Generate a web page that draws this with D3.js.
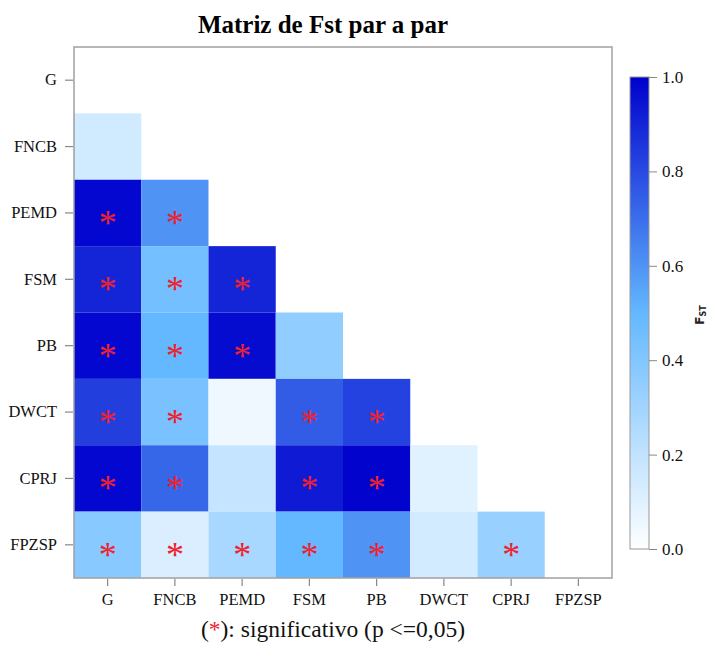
<!DOCTYPE html>
<html><head><meta charset="utf-8">
<script src="https://cdn.jsdelivr.net/npm/d3@7"></script>
<style>body{margin:0;background:#fff}svg{display:block}</style>
</head><body>
<svg id="c" width="707" height="646"></svg>
<script>
const populations = ["G","FNCB","PEMD","FSM","PB","DWCT","CPRJ","FPZSP"];
// lower-triangle Fst values, row i lists values for columns 0..i-1
const fstRows = [
  [],
  [0.15],
  [0.98, 0.60],
  [0.90, 0.45, 0.90],
  [0.98, 0.50, 0.97, 0.35],
  [0.83, 0.43, 0.05, 0.75, 0.82],
  [0.98, 0.72, 0.19, 0.93, 0.99, 0.10],
  [0.38, 0.12, 0.28, 0.50, 0.60, 0.14, 0.33]
];
// significance flags (1 = p <= 0.05)
const sigRows = [
  [],
  [0],
  [1, 1],
  [1, 1, 1],
  [1, 1, 1, 0],
  [1, 1, 0, 1, 1],
  [1, 1, 0, 1, 1, 0],
  [1, 1, 1, 1, 1, 0, 1]
];
const legendTicks = [0.0, 0.2, 0.4, 0.6, 0.8, 1.0];

const cells = [];
fstRows.forEach((row, i) => row.forEach((v, j) => cells.push({r: populations[i], c: populations[j], v, sig: sigRows[i][j]})));

const svg = d3.select("#c");
const L = 74, R = 612, T = 47, B = 578;
const x = d3.scaleBand().domain(populations).range([L, R]);
const y = d3.scaleBand().domain(populations).range([T, B]);
const color = d3.scaleLinear().domain([0, 0.5, 1]).range(["#ffffff", "#63B8FF", "#0000CD"]).interpolate(d3.interpolateRgb);

svg.append("g").selectAll("rect").data(cells).join("rect")
  .attr("x", d => x(d.c)).attr("y", d => y(d.r))
  .attr("width", x.bandwidth()).attr("height", y.bandwidth())
  .attr("fill", d => color(d.v));

svg.append("g").selectAll("text").data(cells.filter(d => d.sig)).join("text")
  .attr("x", d => x(d.c) + x.bandwidth() / 2)
  .attr("y", d => y(d.r) + y.bandwidth() / 2 + 22)
  .attr("text-anchor", "middle")
  .attr("font-family", "Liberation Serif, serif")
  .attr("font-size", 36).attr("fill", "#f0212e")
  .text("*");

svg.append("rect").attr("x", L).attr("y", T).attr("width", R - L).attr("height", B - T)
  .attr("fill", "none").attr("stroke", "#a0a0a0").attr("stroke-width", 1.5);

const fontSerif = "'Liberation Serif', 'Times New Roman', serif";
const yAxis = svg.append("g").attr("transform", `translate(${L - 1},0)`)
  .call(d3.axisLeft(y).tickSize(8).tickPadding(8));
const xAxis = svg.append("g").attr("transform", `translate(0,${B + 1})`)
  .call(d3.axisBottom(x).tickSize(7).tickPadding(7));
[yAxis, xAxis].forEach(a => {
  a.attr("font-family", fontSerif).attr("font-size", 16.5);
  a.select(".domain").remove();
  a.selectAll("line").attr("stroke", "#888").attr("stroke-width", 1.2);
  a.selectAll("text").attr("fill", "#111");
});

// title
svg.append("text").attr("x", 323).attr("y", 33).attr("text-anchor", "middle")
  .attr("font-family", fontSerif).attr("font-weight", "bold").attr("font-size", 25)
  .text("Matriz de Fst par a par");

// caption
const cap = svg.append("text").attr("x", 333).attr("y", 637).attr("text-anchor", "middle")
  .attr("font-family", fontSerif).attr("font-size", 23.5).attr("fill", "#111");
cap.append("tspan").text("(");
cap.append("tspan").attr("fill", "#f0212e").text("*");
cap.append("tspan").text("): significativo (p <=0,05)");

// colour legend
const defs = svg.append("defs");
const grad = defs.append("linearGradient").attr("id", "g").attr("x1", 0).attr("y1", 1).attr("x2", 0).attr("y2", 0);
d3.range(0, 1.0001, 0.05).forEach(t => grad.append("stop").attr("offset", t).attr("stop-color", color(t)));
const lx = 630, lw = 19, ly0 = 549, ly1 = 77;
const ly = d3.scaleLinear().domain([0, 1]).range([ly0, ly1]);
svg.append("rect").attr("x", lx).attr("y", ly1).attr("width", lw).attr("height", ly0 - ly1)
  .attr("fill", "url(#g)").attr("stroke", "#999").attr("stroke-width", 1);
const la = svg.append("g").attr("transform", `translate(${lx + lw},0)`)
  .call(d3.axisRight(ly).tickValues(legendTicks).tickFormat(d3.format(".1f")).tickSize(8).tickPadding(5));
la.attr("font-family", fontSerif).attr("font-size", 17);
la.select(".domain").remove();
la.selectAll("line").attr("stroke", "#888");
la.selectAll("text").attr("fill", "#111");

const fl = svg.append("text").attr("transform", "translate(704,315) rotate(-90)")
  .attr("text-anchor", "middle").attr("font-family", "DejaVu Sans, sans-serif")
  .attr("font-weight", "bold").attr("font-size", 12).attr("fill", "#222");
fl.append("tspan").text("F");
fl.append("tspan").attr("font-size", 8).attr("dy", 2).text("ST");
</script>
</body></html>
